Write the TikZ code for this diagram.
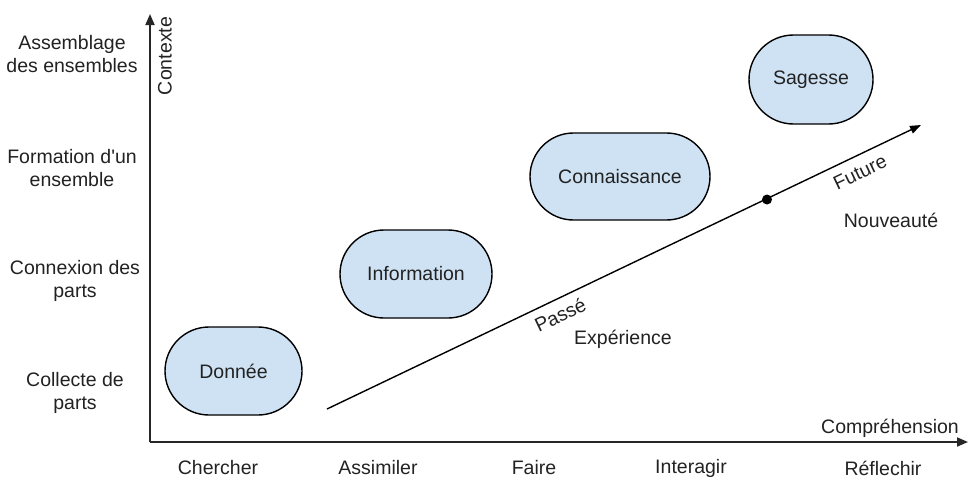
\documentclass[tikz,border=0pt]{standalone}
\usepackage{fontspec}
\setmainfont{Liberation Sans}
\usetikzlibrary{arrows.meta,shapes.misc}
\definecolor{boxfill}{HTML}{CFE2F3}
\definecolor{txt}{HTML}{222222}
\tikzset{
  stage/.style={rounded rectangle, draw=black, line width=1.4pt, fill=boxfill, inner sep=0pt, text=txt, font=\fontsize{19.5}{23}\selectfont},
  lbl/.style={text=txt, font=\fontsize{19.5}{23}\selectfont, align=center, inner sep=0pt},
  axis/.style={line width=1.8pt, draw=black!85, -{Triangle[length=11pt,width=9pt]}},
}
\begin{document}
\begin{tikzpicture}[x=1pt,y=-1pt]
\useasboundingbox (0,0) rectangle (968,479);
% axes
\coordinate (O) at (150,442);
\coordinate (Ytip) at (150,14);
\coordinate (Xtip) at (968,442);
\draw[axis] (O) -- (Ytip);
\draw[axis] (O) -- (Xtip);
% stages
\node[stage, minimum width=137pt, minimum height=88pt] (donnee) at (233.5,371) {Donnée};
\node[stage, minimum width=152pt, minimum height=88pt] (info) at (416,274) {Information};
\node[stage, minimum width=180pt, minimum height=87pt] (conn) at (620,176.5) {Connaissance};
\node[stage, minimum width=124pt, minimum height=89pt] (sag) at (811,79.5) {Sagesse};
% time line
\coordinate (tstart) at (327,409);
\coordinate (tend) at (921,125);
\draw[line width=1.4pt, -{Triangle[length=11pt,width=8pt]}] (tstart) -- (tend);
\node[circle, fill=black, inner sep=0pt, minimum size=10pt] (now) at (767,199.5) {};
\node[lbl, rotate=25.5, anchor=north] (passe) at (557,308) {Passé};
\node[lbl, rotate=25.5, anchor=north] (future) at (857,166) {Future};
\node[lbl] (exp) at (623,339) {Expérience};
\node[lbl] (nouv) at (891,220) {Nouveauté};
% axis labels
\node[lbl, rotate=90] (contexte) at (165,56) {Contexte};
\node[lbl] (compr) at (890,428) {Compréhension};
% left labels
\node[lbl] (l1) at (72,54) {Assemblage\\des ensembles};
\node[lbl] (l2) at (72,168) {Formation d\textquotesingle un\\ensemble};
\node[lbl] (l3) at (75,281) {Connexion des\\parts};
\node[lbl] (l4) at (75,393) {Collecte de\\parts};
% bottom labels
\node[lbl] (b1) at (218,468) {Chercher};
\node[lbl] (b2) at (378,468) {Assimiler};
\node[lbl] (b3) at (534,468) {Faire};
\node[lbl] (b4) at (691,468) {Interagir};
\node[lbl] (b5) at (883,468) {Réflechir};
\end{tikzpicture}
\end{document}
